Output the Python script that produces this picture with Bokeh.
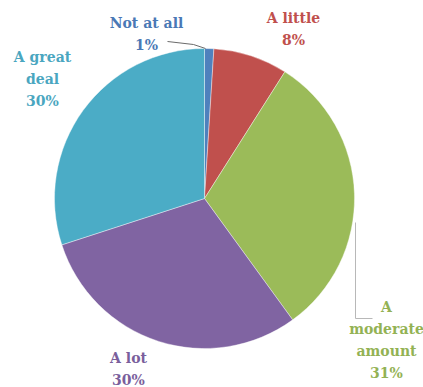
import numpy as np
from bokeh.plotting import figure
from bokeh.models import Range1d, ColumnDataSource
from bokeh.core.properties import value
from bokeh.embed import file_html
from bokeh.resources import INLINE

# Data
categories = ["Not at all", "A little", "A moderate amount", "A lot", "A great deal"]
percents = [1, 8, 31, 30, 30]
label_lines = [["Not at all", "1%"], ["A little", "8%"], ["A", "moderate", "amount", "31%"],
               ["A lot", "30%"], ["A great", "deal", "30%"]]

# Styles
slice_colors = ["#4F81BD", "#C0504D", "#9BBB59", "#8064A2", "#4BACC6"]
text_colors = ["#4A78B5", "#C0504D", "#93B254", "#7A5F9C", "#4AA6C0"]
label_x = [146, 293, 386, 128, 42]
label_top = [22, 17, 306, 357, 56]
line_step = 22

W, H = 423, 387
cx, cy, r = 204, H - 198, 150

p = figure(width=W, height=H, output_backend="svg", toolbar_location=None,
           x_range=Range1d(0, W), y_range=Range1d(0, H), min_border=0)
p.axis.visible = False
p.grid.visible = False
p.outline_line_color = None
p.background_fill_color = "white"

frac = np.array(percents, dtype=float) / sum(percents)
cum = np.concatenate([[0], np.cumsum(frac)])
start = np.pi / 2 - 2 * np.pi * cum[1:]
end = np.pi / 2 - 2 * np.pi * cum[:-1]
src = ColumnDataSource(dict(start=start, end=end, color=slice_colors))
p.wedge(x=cx, y=cy, radius=r, start_angle="start", end_angle="end",
        fill_color="color", line_color="white", line_width=0.4, source=src)

# leader lines
p.line([167, 193, 205], [H - 41, H - 44, H - 48], line_color="#6b6b6b", line_width=1)
p.line([355, 355, 372], [H - 222, H - 318, H - 318], line_color="#b8b8b8", line_width=1)

xs, ys, ts, cs = [], [], [], []
for i, lines in enumerate(label_lines):
    for j, t in enumerate(lines):
        xs.append(label_x[i])
        ys.append(H - (label_top[i] + j * line_step))
        ts.append(t)
        cs.append(text_colors[i])
tsrc = ColumnDataSource(dict(x=xs, y=ys, t=ts, c=cs))
p.text(x="x", y="y", text="t", text_color="c", source=tsrc,
       text_font=value("DejaVu Serif"), text_font_style="bold",
       text_font_size="14px", text_align="center", text_baseline="middle")

open("out.html", "w").write(file_html(p, INLINE))
